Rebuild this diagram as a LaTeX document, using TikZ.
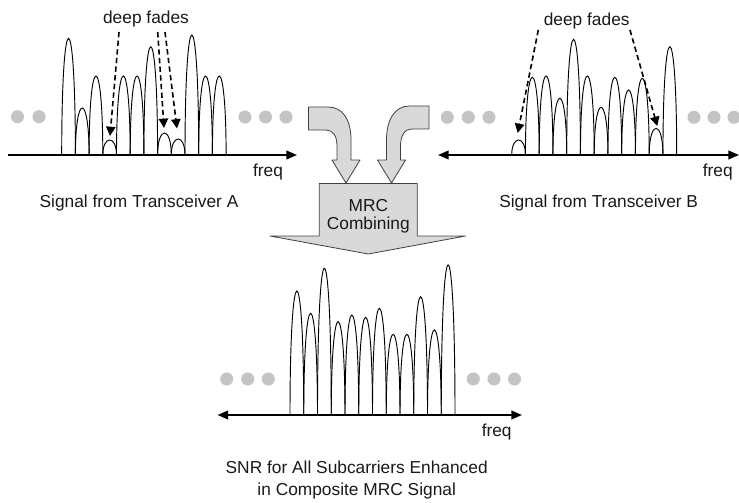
\documentclass[tikz,border=0pt]{standalone}
\usepackage{fontspec}
\setmainfont{Liberation Sans}
\usetikzlibrary{arrows.meta}
\definecolor{dotgray}{HTML}{C4C4C4}
\definecolor{boxgray}{HTML}{D9D9D9}
\definecolor{edgegray}{HTML}{404040}
\begin{document}
\begin{tikzpicture}[x=0.75pt,y=-0.75pt,
  lbl/.style={font=\fontsize{13}{15}\selectfont, inner sep=0pt, text=black!90},
  axisline/.style={line width=1.4pt, black},
  tipA/.style={-{Triangle[length=8pt,width=6.5pt]}},
  tipAB/.style={{Triangle[length=8pt,width=6.5pt]}-{Triangle[length=8pt,width=6.5pt]}},
  lobe/.style={line width=0.7pt, black},
  fadearrow/.style={dash pattern=on 4pt off 2.5pt, line width=1.2pt, -{Triangle[length=7pt,width=7pt]}},
  gdot/.style={circle, fill=dotgray, minimum size=9.8pt, inner sep=0pt},
  bigarrow/.style={fill=boxgray, draw=edgegray, line width=0.6pt, line join=round}]
\useasboundingbox (0,0) rectangle (739,503);

% ---------- Panel A ----------
\coordinate (axAl) at (8,155);
\coordinate (axAr) at (297,155);
\foreach \t [count=\i from 0] in {38.3,108,76,140,76,76,46.7,133,139,35,76,76}{
  \pgfmathsetmacro{\xa}{61.7+13.7*\i}
  \pgfmathsetmacro{\xb}{\xa+13.7}
  \pgfmathsetmacro{\cy}{155-(155-\t)*4/3}
  \draw[lobe] (\xa,155) .. controls (\xa,\cy) and (\xb,\cy) .. (\xb,155);
}
\draw[axisline,tipA] (axAl) -- (axAr);
\node[gdot] (dA1) at (17.5,116.7) {};
\node[gdot] (dA2) at (39,116.7) {};
\node[gdot] (dA3) at (245,117) {};
\node[gdot] (dA4) at (265.5,117) {};
\node[gdot] (dA5) at (286,117) {};
\node[lbl] (dfA) at (146,19) {deep fades};
\coordinate (fA1s) at (119,32);  \coordinate (fA1e) at (110,136);
\coordinate (fA2s) at (157.7,32); \coordinate (fA2e) at (164,128);
\coordinate (fA3s) at (165,32);  \coordinate (fA3e) at (177,128.5);
\draw[fadearrow] (fA1s) -- (fA1e);
\draw[fadearrow] (fA2s) -- (fA2e);
\draw[fadearrow] (fA3s) -- (fA3e);
\node[lbl] (freqA) at (268,171.7) {freq};
\node[lbl] (sigA) at (139,203) {Signal from Transceiver A};

% ---------- Panel B ----------
\coordinate (axBl) at (438,155);
\coordinate (axBr) at (739,155);
\foreach \t [count=\i from 0] in {140,77.3,76,98.3,39.3,76,107.3,77.3,90,78.3,128.3,46.7}{
  \pgfmathsetmacro{\xa}{511.7+13.75*\i}
  \pgfmathsetmacro{\xb}{\xa+13.75}
  \pgfmathsetmacro{\cy}{155-(155-\t)*4/3}
  \draw[lobe] (\xa,155) .. controls (\xa,\cy) and (\xb,\cy) .. (\xb,155);
}
\draw[axisline,tipAB] (axBl) -- (axBr);
\node[gdot] (dB1) at (447.3,117.3) {};
\node[gdot] (dB2) at (468.3,117.3) {};
\node[gdot] (dB3) at (489,117.3) {};
\node[gdot] (dB4) at (694,117.3) {};
\node[gdot] (dB5) at (714,117.3) {};
\node[gdot] (dB6) at (734,117.3) {};
\node[lbl] (dfB) at (586.7,21) {deep fades};
\coordinate (fB1s) at (538.3,30); \coordinate (fB1e) at (517.7,133);
\coordinate (fB2s) at (630,30);   \coordinate (fB2e) at (657.3,126);
\draw[fadearrow] (fB1s) -- (fB1e);
\draw[fadearrow] (fB2s) -- (fB2e);
\node[lbl] (freqB) at (717.7,171.7) {freq};
\node[lbl] (sigB) at (598.7,203) {Signal from Transceiver B};

% ---------- curved arrows ----------
\draw[bigarrow] (308.5,107) -- (328,107) .. controls (343,107) and (351,120) .. (351,140)
  -- (351,160) -- (360,160) -- (346,183) -- (332,160) -- (337,160) -- (337,146)
  .. controls (337,136) and (333,130) .. (326,130) -- (308.5,130) -- cycle;
\begin{scope}[xshift=737.5*0.75pt, xscale=-1]
\draw[bigarrow] (308.5,106) -- (328,106) .. controls (343,106) and (351,120) .. (351,140)
  -- (351,160) -- (360,160) -- (346,183) -- (332,160) -- (337,160) -- (337,146)
  .. controls (337,136) and (333,129) .. (326,129) -- (308.5,129) -- cycle;
\end{scope}

% ---------- MRC combining box ----------
\draw[bigarrow] (319.3,183.5) -- (417.3,183.5) -- (417.3,236) -- (465.5,236)
  -- (368.3,254) -- (270,236) -- (319.3,236) -- cycle;
\node[lbl] (mrc) at (368.3,206) {MRC};
\node[lbl] (comb) at (368.3,225) {Combining};

% ---------- Composite ----------
\coordinate (axCl) at (217.5,415);
\coordinate (axCr) at (522,415);
\foreach \t [count=\i from 0] in {291,313.3,268.3,321.7,315,317.3,308.3,334.3,334.3,296.7,330,265}{
  \pgfmathsetmacro{\xa}{290+13.75*\i}
  \pgfmathsetmacro{\xb}{\xa+13.75}
  \pgfmathsetmacro{\cy}{415-(415-\t)*4/3}
  \draw[lobe] (\xa,415) .. controls (\xa,\cy) and (\xb,\cy) .. (\xb,415);
}
\draw[axisline,tipAB] (axCl) -- (axCr);
\node[gdot] (dC1) at (226.7,379) {};
\node[gdot] (dC2) at (247.7,379) {};
\node[gdot] (dC3) at (268.3,379) {};
\node[gdot] (dC4) at (473.3,379) {};
\node[gdot] (dC5) at (494,379) {};
\node[gdot] (dC6) at (514.5,379) {};
\node[lbl] (freqC) at (496.7,432.3) {freq};
\node[lbl, align=center] (snr) at (356.7,480) {SNR for All Subcarriers Enhanced\\[1pt]in Composite MRC Signal};
\end{tikzpicture}
\end{document}
